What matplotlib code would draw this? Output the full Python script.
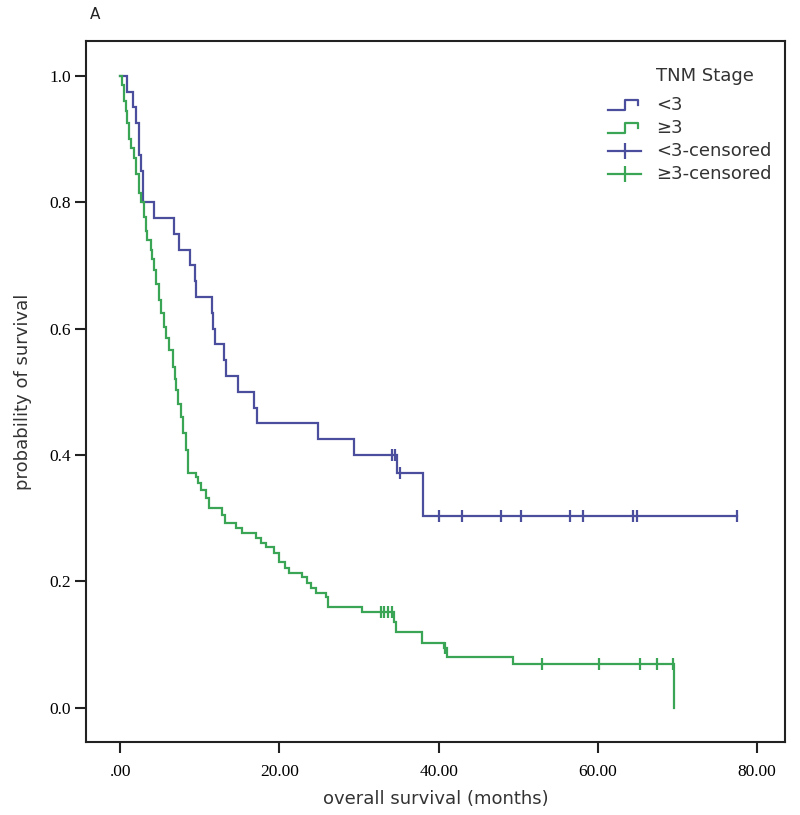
import matplotlib
matplotlib.use("Agg")
import matplotlib.pyplot as plt
from matplotlib.lines import Line2D

# ---------------- data ----------------
# <3 group: event times (months) and survival after each event
lt3_times = [0.79, 1.55, 1.97, 2.30, 2.32, 2.60, 2.89, 2.91, 4.28, 6.79, 7.42,
             8.80, 9.43, 9.56, 11.57, 11.70, 11.95, 13.08, 13.33, 14.84, 16.86,
             17.23, 24.91, 29.43, 34.72, 37.99]
lt3_surv = [0.975, 0.95, 0.925, 0.90, 0.875, 0.85, 0.825, 0.80, 0.775, 0.75, 0.725,
            0.70, 0.675, 0.65, 0.625, 0.60, 0.575, 0.55, 0.525, 0.50, 0.475,
            0.45, 0.425, 0.40, 0.372, 0.304]
lt3_cens_t = [34.1, 34.5, 35.1, 40.0, 42.9, 47.8, 50.4, 56.5, 58.1, 64.4, 64.9, 77.5]
lt3_cens_s = [0.40, 0.40, 0.372, 0.304, 0.304, 0.304, 0.304, 0.304, 0.304, 0.304, 0.304, 0.304]

# >=3 group
ge3_times = [0.25, 0.50, 0.75, 0.88, 1.13, 1.38, 1.76, 2.01, 2.39, 2.64, 3.02, 3.27,
             3.40, 3.90, 4.03, 4.28, 4.53, 4.91, 5.16, 5.53, 5.79, 6.16, 6.67, 6.92,
             7.04, 7.30, 7.67, 7.92, 8.30, 8.55, 9.56, 9.81, 10.19, 10.82, 11.19,
             12.83, 13.21, 14.59, 15.35, 17.11, 17.74, 18.36, 19.37, 20.00, 20.75,
             21.26, 22.89, 23.52, 24.03, 24.65, 25.91, 26.16, 30.44, 34.34, 34.59,
             37.86, 40.63, 41.01, 49.31, 69.56]
ge3_surv = [0.985, 0.96, 0.945, 0.925, 0.90, 0.885, 0.87, 0.845, 0.815, 0.80, 0.777, 0.755,
            0.74, 0.725, 0.71, 0.693, 0.67, 0.646, 0.625, 0.603, 0.585, 0.566, 0.54, 0.52,
            0.503, 0.48, 0.46, 0.435, 0.408, 0.372, 0.365, 0.355, 0.345, 0.332, 0.316,
            0.305, 0.293, 0.285, 0.277, 0.269, 0.261, 0.255, 0.245, 0.231, 0.222,
            0.214, 0.207, 0.198, 0.19, 0.182, 0.176, 0.16, 0.152, 0.136, 0.12,
            0.103, 0.095, 0.081, 0.07, 0.0]
ge3_cens_t = [32.8, 33.2, 33.6, 34.2, 40.8, 53.0, 60.1, 65.3, 67.5, 69.4]
ge3_cens_s = [0.152, 0.152, 0.152, 0.152, 0.095, 0.07, 0.07, 0.07, 0.07, 0.07]

x_ticks = [0, 20, 40, 60, 80]
x_ticklabels = [".00", "20.00", "40.00", "60.00", "80.00"]
y_ticks = [0.0, 0.2, 0.4, 0.6, 0.8, 1.0]
y_ticklabels = ["0.0", "0.2", "0.4", "0.6", "0.8", "1.0"]
legend_title = "TNM Stage"
group_labels = ["<3", "≥3", "<3-censored", "≥3-censored"]

BLUE = "#4b4e9c"
GREEN = "#3aa655"
TXT = "#333333"
LW = 1.6

W, H = 800, 815
fig = plt.figure(figsize=(W / 100, H / 100), dpi=100)
ax = fig.add_axes([0.1075, 0.0896, 0.8735, 0.8601])


def km_path(times, surv, end_t):
    xs, ys = [0.0], [1.0]
    for t, s in zip(times, surv):
        xs += [t, t]
        ys += [ys[-1], s]
    if end_t is not None and end_t > xs[-1]:
        xs.append(end_t)
        ys.append(ys[-1])
    return xs, ys


xb, yb = km_path(lt3_times, lt3_surv, max(lt3_cens_t))
xg, yg = km_path(ge3_times, ge3_surv, None)
ax.plot(xb, yb, color=BLUE, lw=LW, solid_joinstyle="miter")
ax.plot(xg, yg, color=GREEN, lw=LW, solid_joinstyle="miter")
ax.plot(lt3_cens_t, lt3_cens_s, ls="none", marker="|", ms=9, mew=1.6, color=BLUE)
ax.plot(ge3_cens_t, ge3_cens_s, ls="none", marker="|", ms=9, mew=1.6, color=GREEN)

ax.set_xlim(-4.3, 83.5)
ax.set_ylim(-0.054, 1.055)
ax.set_xticks(x_ticks)
ax.set_xticklabels(x_ticklabels, fontfamily="Liberation Serif", fontsize=12.5)
ax.set_yticks(y_ticks)
ax.set_yticklabels(y_ticklabels, fontfamily="Liberation Serif", fontsize=12.5)
ax.tick_params(axis="x", direction="out", length=8, width=1.5, color="#222222", pad=8)
ax.tick_params(axis="y", direction="out", length=8, width=1.5, color="#222222", pad=3)
for sp in ax.spines.values():
    sp.set_linewidth(1.5)
    sp.set_color("#222222")

ax.set_xlabel("overall survival (months)", fontsize=13, color=TXT, labelpad=7)
ax.set_ylabel("probability of survival", fontsize=13, color=TXT, labelpad=12)
fig.text(0.112, 0.982, "A", fontsize=11, color="#222222", ha="left", va="center")


# ---- legend drawn in figure pixel space (top-left origin) ----
def fx(px):
    return px / W


def fy(py):
    return 1 - py / H


hx0, hx1, tx = 608, 641, 656
title_y = 76
rows_y = [105, 128, 151, 174]
colors = [BLUE, GREEN, BLUE, GREEN]
fig.text(fx(tx), fy(title_y), legend_title, fontsize=13, color=TXT, ha="left", va="center")
for i, (lab, col, ry) in enumerate(zip(group_labels, colors, rows_y)):
    if i < 2:
        xs = [hx0, hx0 + 0.5 * (hx1 - hx0), hx0 + 0.5 * (hx1 - hx0), hx1 - 3, hx1 - 3]
        ys = [ry + 5, ry + 5, ry - 5, ry - 5, ry]
        fig.add_artist(Line2D([fx(v) for v in xs], [fy(v) for v in ys],
                              color=col, lw=LW, transform=fig.transFigure))
    else:
        fig.add_artist(Line2D([fx(hx0), fx(hx1)], [fy(ry), fy(ry)], color=col, lw=LW,
                              transform=fig.transFigure))
        fig.add_artist(Line2D([fx(0.5 * (hx0 + hx1))], [fy(ry)], color=col, marker="|",
                              ms=12, mew=1.6, ls="none", transform=fig.transFigure))
    fig.text(fx(tx), fy(ry), lab, fontsize=13, color=TXT, ha="left", va="center")

fig.savefig("out.png", dpi=100, facecolor="white")
